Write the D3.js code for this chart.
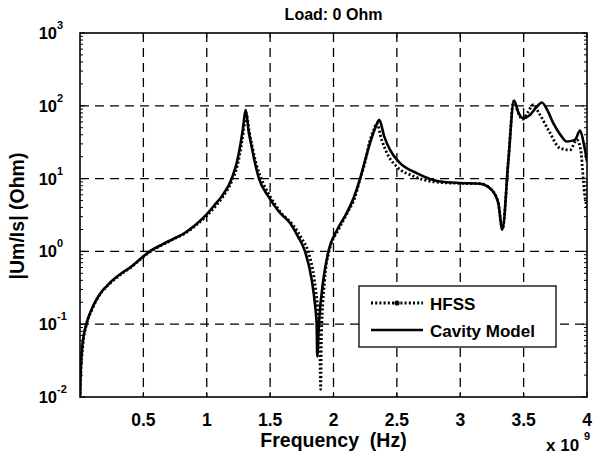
<!DOCTYPE html>
<html><head><meta charset="utf-8">
<script src="https://cdn.jsdelivr.net/npm/d3@7"></script>
<style>
body{margin:0;background:#fff;}
svg text{font-family:"Liberation Sans",Arial,sans-serif;font-weight:bold;fill:#000;}
</style></head>
<body><svg id="c" width="615" height="457"></svg>
<script>
// ---- data (frequency in GHz, i.e. x 10^9 Hz) ----
const cavityFreq = [0.001,0.005,0.021,0.05,0.09,0.15,0.234,0.32,0.405,0.48,0.55,0.65,0.74,0.826,0.91,0.997,1.06,1.118,1.197,1.236,1.26,1.284,1.307,1.33,1.354,1.38,1.412,1.486,1.57,1.657,1.72,1.775,1.828,1.855,1.867,1.872,1.885,1.92,1.96,2.03,2.104,2.16,2.21,2.25,2.288,2.33,2.361,2.40,2.446,2.525,2.656,2.84,2.998,3.156,3.248,3.30,3.332,3.38,3.424,3.46,3.493,3.55,3.60,3.643,3.69,3.734,3.79,3.84,3.905,3.945,3.975,4.0];
const cavityVal  = [0.010,0.0215,0.055,0.10,0.158,0.25,0.368,0.49,0.62,0.80,1.0,1.25,1.5,1.79,2.3,3.2,4.3,5.7,10,16.3,26,46.7,88,45,27.5,16.5,10,5.7,3.5,2.45,1.6,1.0,0.41,0.18,0.10,0.036,0.10,0.41,1.0,2.0,3.37,5.5,10,18,30.7,50,64,38,24.8,16.3,11.9,9.1,8.7,8.5,7.0,4.6,1.99,18.1,118,80,67.7,75,95,111,85,57.7,40,32.3,34,45.7,30,17.2];
const hfssFreq = [0.001,0.006,0.022,0.052,0.092,0.15,0.235,0.32,0.405,0.48,0.55,0.65,0.74,0.826,0.91,1.0,1.065,1.12,1.20,1.245,1.27,1.29,1.31,1.335,1.36,1.39,1.43,1.50,1.58,1.68,1.75,1.80,1.85,1.875,1.89,1.899,1.905,1.93,1.965,2.04,2.11,2.17,2.21,2.25,2.28,2.32,2.34,2.38,2.43,2.50,2.62,2.80,2.998,3.156,3.248,3.30,3.333,3.38,3.42,3.46,3.49,3.53,3.576,3.62,3.70,3.787,3.866,3.92,3.95,3.98,4.0];
const hfssVal  = [0.011,0.02,0.05,0.10,0.155,0.245,0.36,0.48,0.61,0.79,0.98,1.23,1.48,1.76,2.25,3.1,4.1,5.4,9.5,16,27,45,80,45,27,16,10,5.7,3.5,2.3,1.5,1.0,0.4,0.17,0.08,0.0127,0.07,0.4,1.0,2.0,3.4,5.6,10,17,30,48,58,34,21,14.5,11,9,8.6,8.5,7.0,4.6,2.0,18,115,78,65,80,103,80,45,26.2,24.8,34,25,6.3,4];
const xTicks = [0.5,1,1.5,2,2.5,3,3.5,4];
const yExp = [-2,-1,0,1,2,3];
const seriesNames = ["HFSS","Cavity Model"];
const titleText = "Load: 0 Ohm";
const xLabel = "Frequency  (Hz)";
const yLabel = "|Um/Is| (Ohm)";

// ---- layout ----
const L=80,R=587,T=33,B=397;
const svg=d3.select("#c");
const x=d3.scaleLinear().domain([0,4]).range([L,R]);
const y=d3.scaleLog().domain([1e-2,1e3]).range([B,T]);

// grid
const grid=svg.append("g").attr("stroke","#000").attr("stroke-width",1.3).attr("stroke-dasharray","9,6");
grid.selectAll(".gx").data(xTicks.filter(d=>d<4)).join("line")
  .attr("x1",d=>x(d)).attr("x2",d=>x(d)).attr("y1",T).attr("y2",B);
grid.selectAll(".gy").data(yExp.filter(e=>e>-2&&e<3)).join("line")
  .attr("y1",e=>y(Math.pow(10,e))).attr("y2",e=>y(Math.pow(10,e))).attr("x1",L).attr("x2",R);

// minor ticks on log axis
const minor=[];
for(let e=-2;e<3;e++) for(let m=2;m<10;m++) minor.push(m*Math.pow(10,e));
const tk=svg.append("g").attr("stroke","#000").attr("stroke-width",1);
tk.selectAll(".ml").data(minor).join("line").attr("x1",L).attr("x2",L+3).attr("y1",d=>y(d)).attr("y2",d=>y(d));
tk.selectAll(".mr").data(minor).join("line").attr("x1",R).attr("x2",R-3).attr("y1",d=>y(d)).attr("y2",d=>y(d));
tk.selectAll(".jl").data(yExp).join("line").attr("x1",L).attr("x2",L+5).attr("y1",e=>y(Math.pow(10,e))).attr("y2",e=>y(Math.pow(10,e)));
tk.selectAll(".jr").data(yExp).join("line").attr("x1",R).attr("x2",R-5).attr("y1",e=>y(Math.pow(10,e))).attr("y2",e=>y(Math.pow(10,e)));
tk.selectAll(".xb").data(xTicks).join("line").attr("x1",d=>x(d)).attr("x2",d=>x(d)).attr("y1",B).attr("y2",B-5);
tk.selectAll(".xt").data(xTicks).join("line").attr("x1",d=>x(d)).attr("x2",d=>x(d)).attr("y1",T).attr("y2",T+5);

// clip
svg.append("clipPath").attr("id","clp").append("rect").attr("x",L).attr("y",T).attr("width",R-L).attr("height",B-T);

const line=d3.line().x(d=>x(d[0])).y(d=>y(d[1])).curve(d3.curveMonotoneX);
const cav=cavityFreq.map((f,i)=>[f,cavityVal[i]]);
const hf=hfssFreq.map((f,i)=>[f,hfssVal[i]]);
const pl=svg.append("g").attr("clip-path","url(#clp)");
pl.append("path").attr("d",line(cav)).attr("fill","none").attr("stroke","#000").attr("stroke-width",2.6);
pl.append("path").attr("d",line(hf)).attr("fill","none").attr("stroke","#000").attr("stroke-width",2.8).attr("stroke-dasharray","2,2.2");

// frame
svg.append("rect").attr("x",L).attr("y",T).attr("width",R-L).attr("height",B-T).attr("fill","none").attr("stroke","#000").attr("stroke-width",1.6);

// x tick labels
svg.selectAll(".xl").data(xTicks).join("text").attr("x",d=>x(d)).attr("y",426).attr("text-anchor","middle")
  .attr("font-size",17.5).text(d=>d3.format("")(d));
// y tick labels
const yl=svg.selectAll(".yl").data(yExp).join("text").attr("x",57).attr("y",e=>y(Math.pow(10,e))+6).attr("text-anchor","end").attr("font-size",16.5);
yl.text("10");
svg.selectAll(".ye").data(yExp).join("text").attr("x",57).attr("y",e=>y(Math.pow(10,e))-4).attr("font-size",11).text(e=>e);

// title & labels
svg.append("text").attr("x",(L+R)/2).attr("y",20).attr("text-anchor","middle").attr("font-size",16).text(titleText);
svg.append("text").attr("x",(L+R)/2).attr("y",447).attr("text-anchor","middle").attr("font-size",19.5).attr("xml:space","preserve").style("white-space","pre").text(xLabel);
svg.append("text").attr("transform","translate(24,216) rotate(-90)").attr("text-anchor","middle").attr("font-size",19.5).text(yLabel);
svg.append("text").attr("x",546).attr("y",451).attr("font-size",17).text("x 10");
svg.append("text").attr("x",584).attr("y",440).attr("font-size",11).text("9");

// legend
const lg=svg.append("g");
lg.append("rect").attr("x",359).attr("y",286).attr("width",197).attr("height",61).attr("fill","#fff").attr("stroke","#000").attr("stroke-width",1.3);
const rows=[303,330];
lg.append("line").attr("x1",371).attr("x2",423).attr("y1",rows[0]).attr("y2",rows[0]).attr("stroke","#000").attr("stroke-width",2.8).attr("stroke-dasharray","2,2.2");
lg.append("circle").attr("cx",397).attr("cy",rows[0]).attr("r",2.6).attr("fill","#000");
lg.append("line").attr("x1",371).attr("x2",423).attr("y1",rows[1]).attr("y2",rows[1]).attr("stroke","#000").attr("stroke-width",2.6);
lg.selectAll(".lt").data(seriesNames).join("text").attr("x",430).attr("y",(d,i)=>rows[i]+6.5).attr("font-size",17).text(d=>d);
</script></body></html>
